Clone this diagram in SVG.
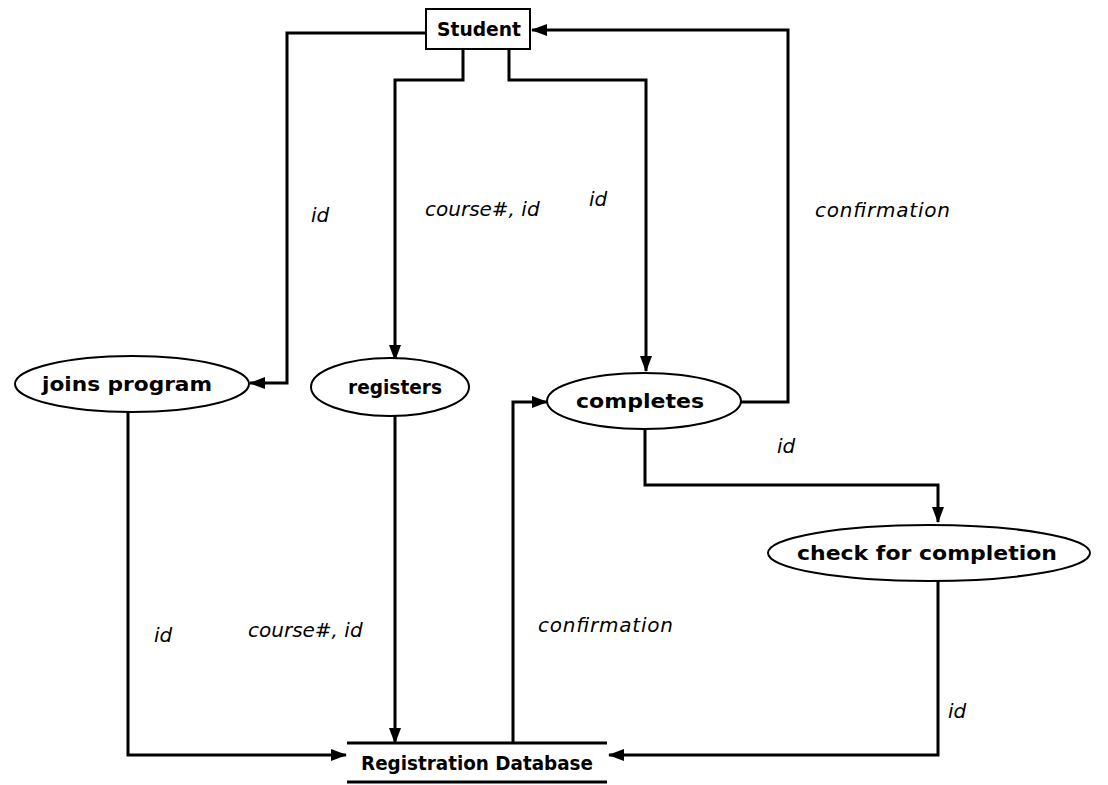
<svg xmlns="http://www.w3.org/2000/svg" width="1108" height="785" viewBox="0 0 1108 785">
<style>
.ln{fill:none;stroke:#000;stroke-width:3;stroke-linejoin:miter}
.nd{fill:#fff;stroke:#000;stroke-width:2}
.nt{font-family:"DejaVu Sans",sans-serif;font-weight:bold;font-size:20px;text-anchor:middle;fill:#000}
.lb{font-family:"DejaVu Sans",sans-serif;font-style:italic;font-size:20px;fill:#000}
</style>
<defs>
<marker id="ah" markerUnits="userSpaceOnUse" markerWidth="16" markerHeight="12" refX="15" refY="6" orient="auto">
<path d="M0,0 L16,6 L0,12 Z" fill="#000"/>
</marker>
</defs>
<rect width="1108" height="785" fill="#fff"/>
<g id="connectors">
<path class="ln" d="M426,33 H287 V383 H250" marker-end="url(#ah)"/>
<path class="ln" d="M463,49 V80 H395 V360" marker-end="url(#ah)"/>
<path class="ln" d="M509,49 V80 H646 V371" marker-end="url(#ah)"/>
<path class="ln" d="M741,402 H788 V30 H532" marker-end="url(#ah)"/>
<path class="ln" d="M513,743 V402 H547" marker-end="url(#ah)"/>
<path class="ln" d="M645,429 V485 H938 V522" marker-end="url(#ah)"/>
<path class="ln" d="M938,579 V755 H609" marker-end="url(#ah)"/>
<path class="ln" d="M128,412 V755 H346" marker-end="url(#ah)"/>
<path class="ln" d="M395,416 V743" marker-end="url(#ah)"/>
</g>
<g id="labels">
<text class="lb" x="311" y="222">id</text>
<text class="lb" x="425" y="216">course#, id</text>
<text class="lb" x="589" y="206">id</text>
<text class="lb" x="815" y="217" textLength="135">confirmation</text>
<text class="lb" x="154" y="642">id</text>
<text class="lb" x="248" y="637">course#, id</text>
<text class="lb" x="538" y="632" textLength="135">confirmation</text>
<text class="lb" x="777" y="453">id</text>
<text class="lb" x="948" y="718">id</text>
</g>
<g id="student">
<rect class="nd" x="426" y="9" width="104" height="40"/>
<text class="nt" x="479" y="36" textLength="84" lengthAdjust="spacingAndGlyphs">Student</text>
</g>
<g id="joins-program">
<ellipse class="nd" cx="132" cy="384" rx="117" ry="28"/>
<text class="nt" x="127" y="391" textLength="170" lengthAdjust="spacingAndGlyphs">joins program</text>
</g>
<g id="registers">
<ellipse class="nd" cx="390" cy="387" rx="79" ry="29"/>
<text class="nt" x="395" y="394" textLength="94" lengthAdjust="spacingAndGlyphs">registers</text>
</g>
<g id="completes">
<ellipse class="nd" cx="644" cy="401" rx="97" ry="28"/>
<text class="nt" x="640" y="408" textLength="128" lengthAdjust="spacingAndGlyphs">completes</text>
</g>
<g id="check-for-completion">
<ellipse class="nd" cx="929" cy="553" rx="161" ry="28"/>
<text class="nt" x="927" y="560" textLength="260" lengthAdjust="spacingAndGlyphs">check for completion</text>
</g>
<g id="registration-database">
<line class="ln" x1="347" y1="743" x2="607" y2="743"/>
<line class="ln" x1="347" y1="782" x2="607" y2="782"/>
<text class="nt" x="477" y="770" textLength="232" lengthAdjust="spacingAndGlyphs">Registration Database</text>
</g>
</svg>
